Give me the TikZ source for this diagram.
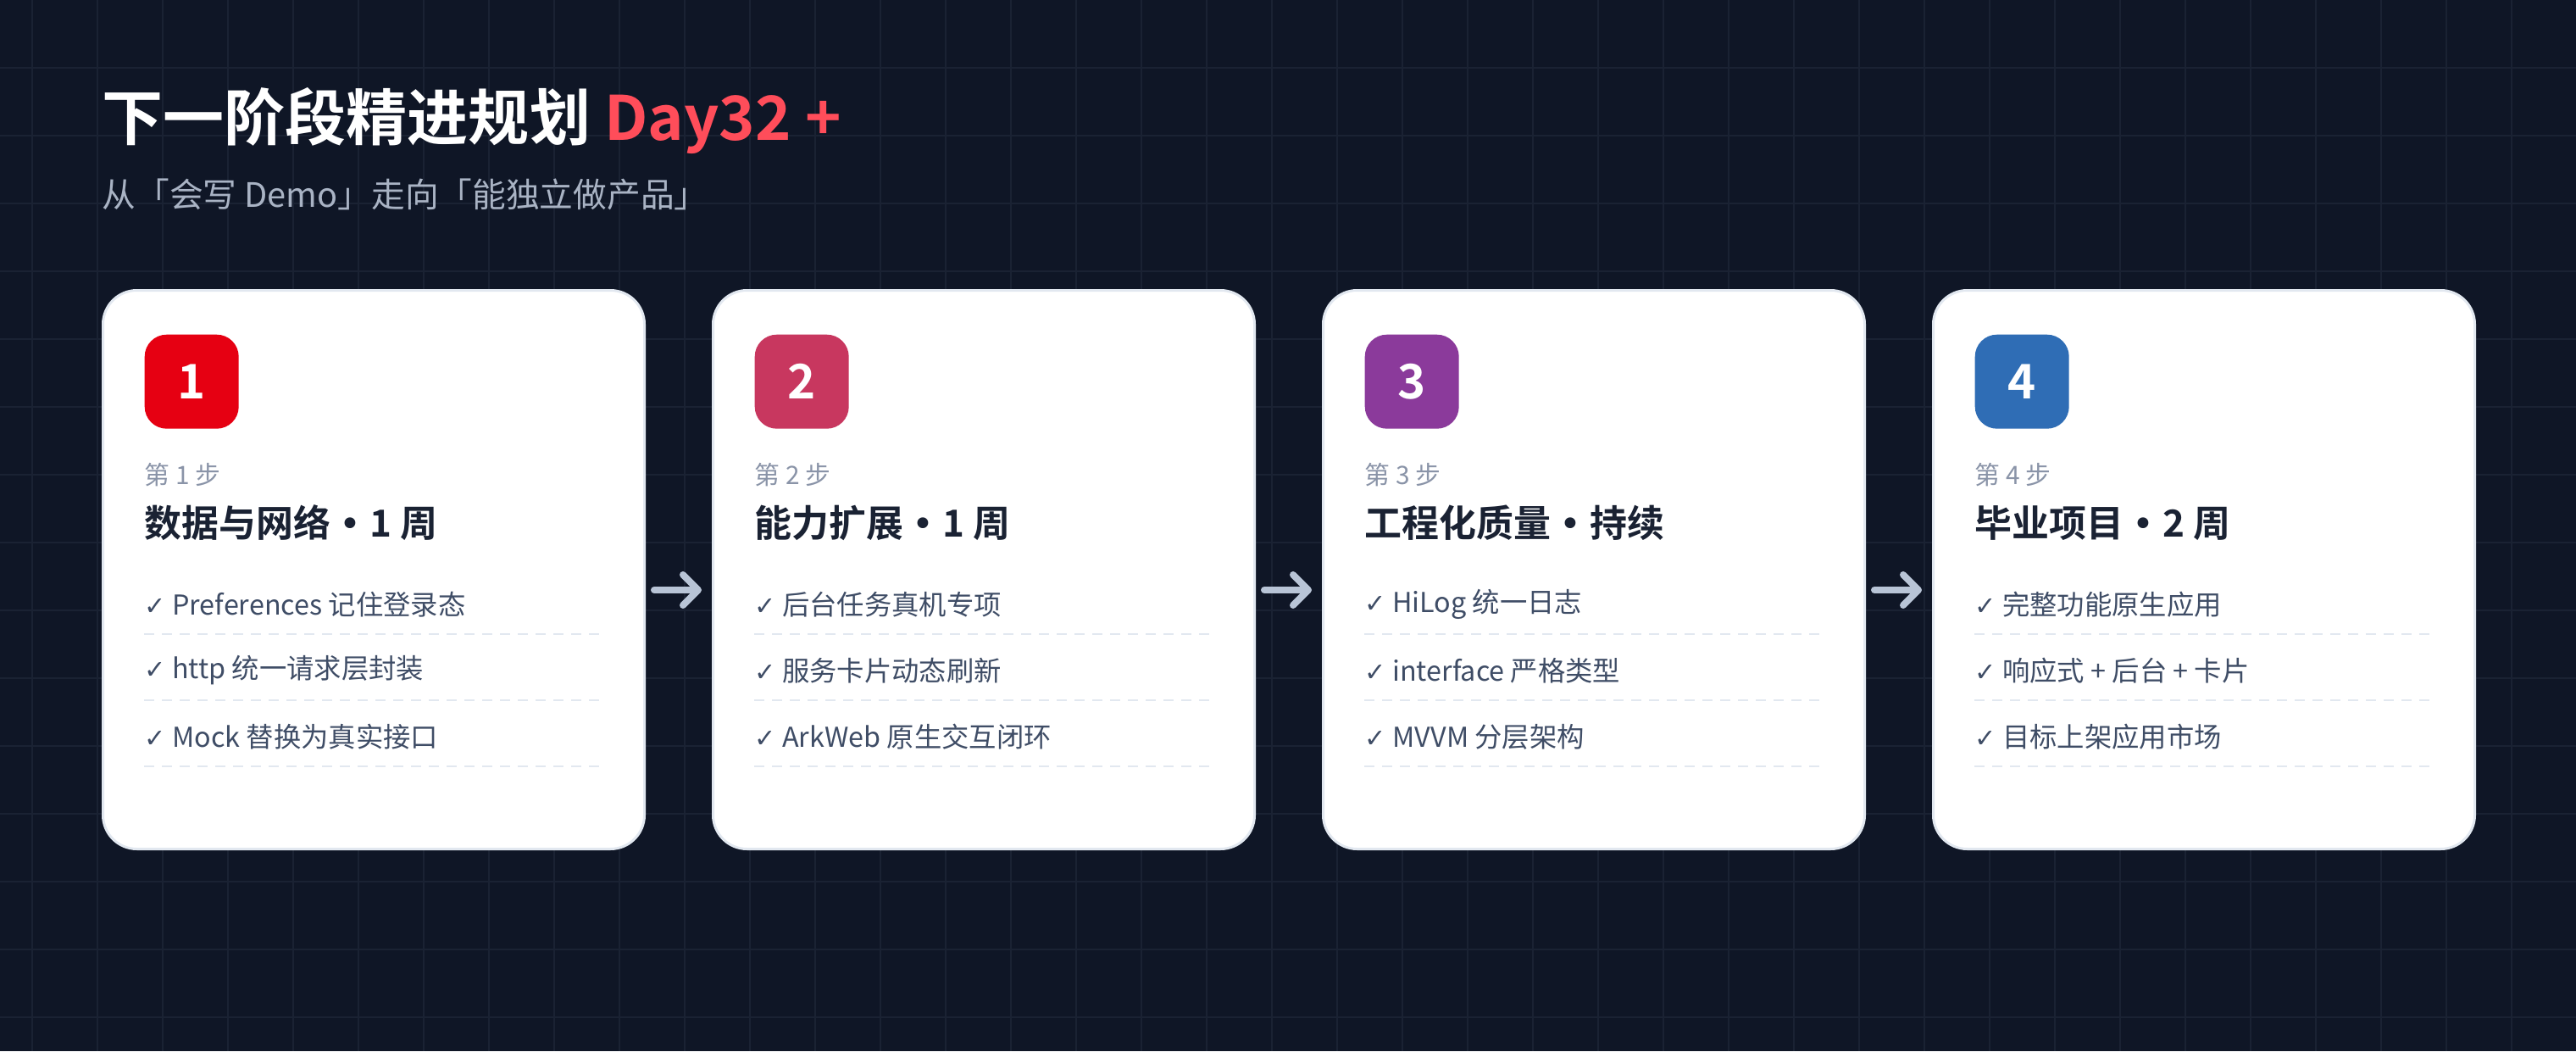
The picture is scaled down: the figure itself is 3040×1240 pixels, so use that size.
\documentclass[tikz,border=0pt]{standalone}
\usepackage{fontspec}
\setmainfont{Noto Sans CJK SC}
\newfontfamily\cjkbold{Noto Sans CJK SC Bold}
\newfontfamily\symfont{DejaVu Sans}
\usetikzlibrary{positioning,arrows.meta}

\definecolor{bgdark}{HTML}{0F1626}
\definecolor{gridline}{HTML}{1A2233}
\definecolor{titlered}{HTML}{FF4D5A}
\definecolor{subgray}{HTML}{A9B3C4}
\definecolor{stepgray}{HTML}{8A94A8}
\definecolor{headdark}{HTML}{1A2233}
\definecolor{itemgray}{HTML}{3F4D66}
\definecolor{dashgray}{HTML}{E2E8F0}
\definecolor{arrowgray}{HTML}{B8C4D6}
\definecolor{badgeA}{HTML}{E60012}
\definecolor{badgeB}{HTML}{C8375F}
\definecolor{badgeC}{HTML}{8B3A9B}
\definecolor{badgeD}{HTML}{2F6DB5}

\newcommand{\chk}{{\symfont\fontsize{8.6}{11}\selectfont ✓}}
\newcommand{\dotsep}{{\symfont •}}

\tikzset{
	card/.style={fill=white, draw=dashgray, line width=0.3mm, rounded corners=4mm,
		minimum width=63.9mm, minimum height=65.9mm, inner sep=0pt, anchor=north west},
	badge/.style={rounded corners=2.6mm, minimum size=11.1mm, inner sep=0pt,
		anchor=north west, text=white, font=\cjkbold\fontsize{16}{18}\selectfont},
	steplabel/.style={anchor=west, inner sep=0pt, text=stepgray, font=\fontsize{8.5}{10}\selectfont},
	headline/.style={anchor=west, inner sep=0pt, text=headdark, font=\cjkbold\fontsize{12.5}{15}\selectfont},
	itemline/.style={anchor=west, inner sep=0pt, text=itemgray, font=\fontsize{9.2}{11}\selectfont},
	rowsep/.style={draw=dashgray, line width=0.25mm, dash pattern=on 1.2mm off 0.9mm},
	flow/.style={draw=arrowgray, line width=0.8mm, line cap=round,
		-{Straight Barb[length=1.8mm, width=3.6mm, line width=0.8mm, round]},
		shorten <=1mm, shorten >=1.2mm},
}

\begin{document}
\begin{tikzpicture}[x=0.1mm, y=-0.1mm]

	% ---- background and grid

	\fill[bgdark] (0,0) rectangle (3040,1240);
	\useasboundingbox (0,0) rectangle (3040,1240);
	\foreach \gx in {38,115,...,3040} { \draw[gridline, line width=0.2mm] (\gx,0) -- (\gx,1240); }
	\foreach \gy in {80,160,...,1240} { \draw[gridline, line width=0.2mm] (0,\gy) -- (3040,\gy); }

	% ---- title

	\node[anchor=west, inner sep=0pt, text=white, font=\cjkbold\fontsize{20.5}{24}\selectfont]
		(title) at (120,143) {下一阶段精进规划 \textcolor{titlered}{Day32 +}};
	\node[anchor=west, inner sep=0pt, text=subgray, font=\fontsize{11.3}{13}\selectfont]
		(subtitle) at (120,229) {从「会写 Demo」走向「能独立做产品」};

	% ---- cards

	\foreach \i/\col/\head/\ia/\ib/\ic in {
		1/badgeA/数据与网络 \dotsep\ 1 周/Preferences 记住登录态/http 统一请求层封装/Mock 替换为真实接口,
		2/badgeB/能力扩展 \dotsep\ 1 周/后台任务真机专项/服务卡片动态刷新/ArkWeb 原生交互闭环,
		3/badgeC/工程化质量 \dotsep\ 持续/HiLog 统一日志/interface 严格类型/MVVM 分层架构,
		4/badgeD/毕业项目 \dotsep\ 2 周/完整功能原生应用/响应式 + 后台 + 卡片/目标上架应用市场} {
		\pgfmathsetmacro{\cx}{120+720*(\i-1)}
		\node[card] (card\i) at (\cx,341) {};
		\node[badge, fill=\col] (badge\i) at (\cx+50,394) {\i};
		\node[steplabel] (step\i) at (\cx+50,560) {第 \i\ 步};
		\node[headline] (head\i) at (\cx+50,617) {\head};
		\node[itemline] (itemA\i) at (\cx+50,713) {\chk\ \ia};
		\node[itemline] (itemB\i) at (\cx+50,791) {\chk\ \ib};
		\node[itemline] (itemC\i) at (\cx+50,869) {\chk\ \ic};
		\foreach \ly in {748,826,904} { \draw[rowsep] (\cx+50,\ly) -- (\cx+590,\ly); }
	}

	% ---- arrows

	\foreach \i/\j in {1/2,2/3,3/4} { \draw[flow] ([yshift=-2.4mm]card\i.east) -- ([yshift=-2.4mm]card\j.west); }

\end{tikzpicture}
\end{document}
